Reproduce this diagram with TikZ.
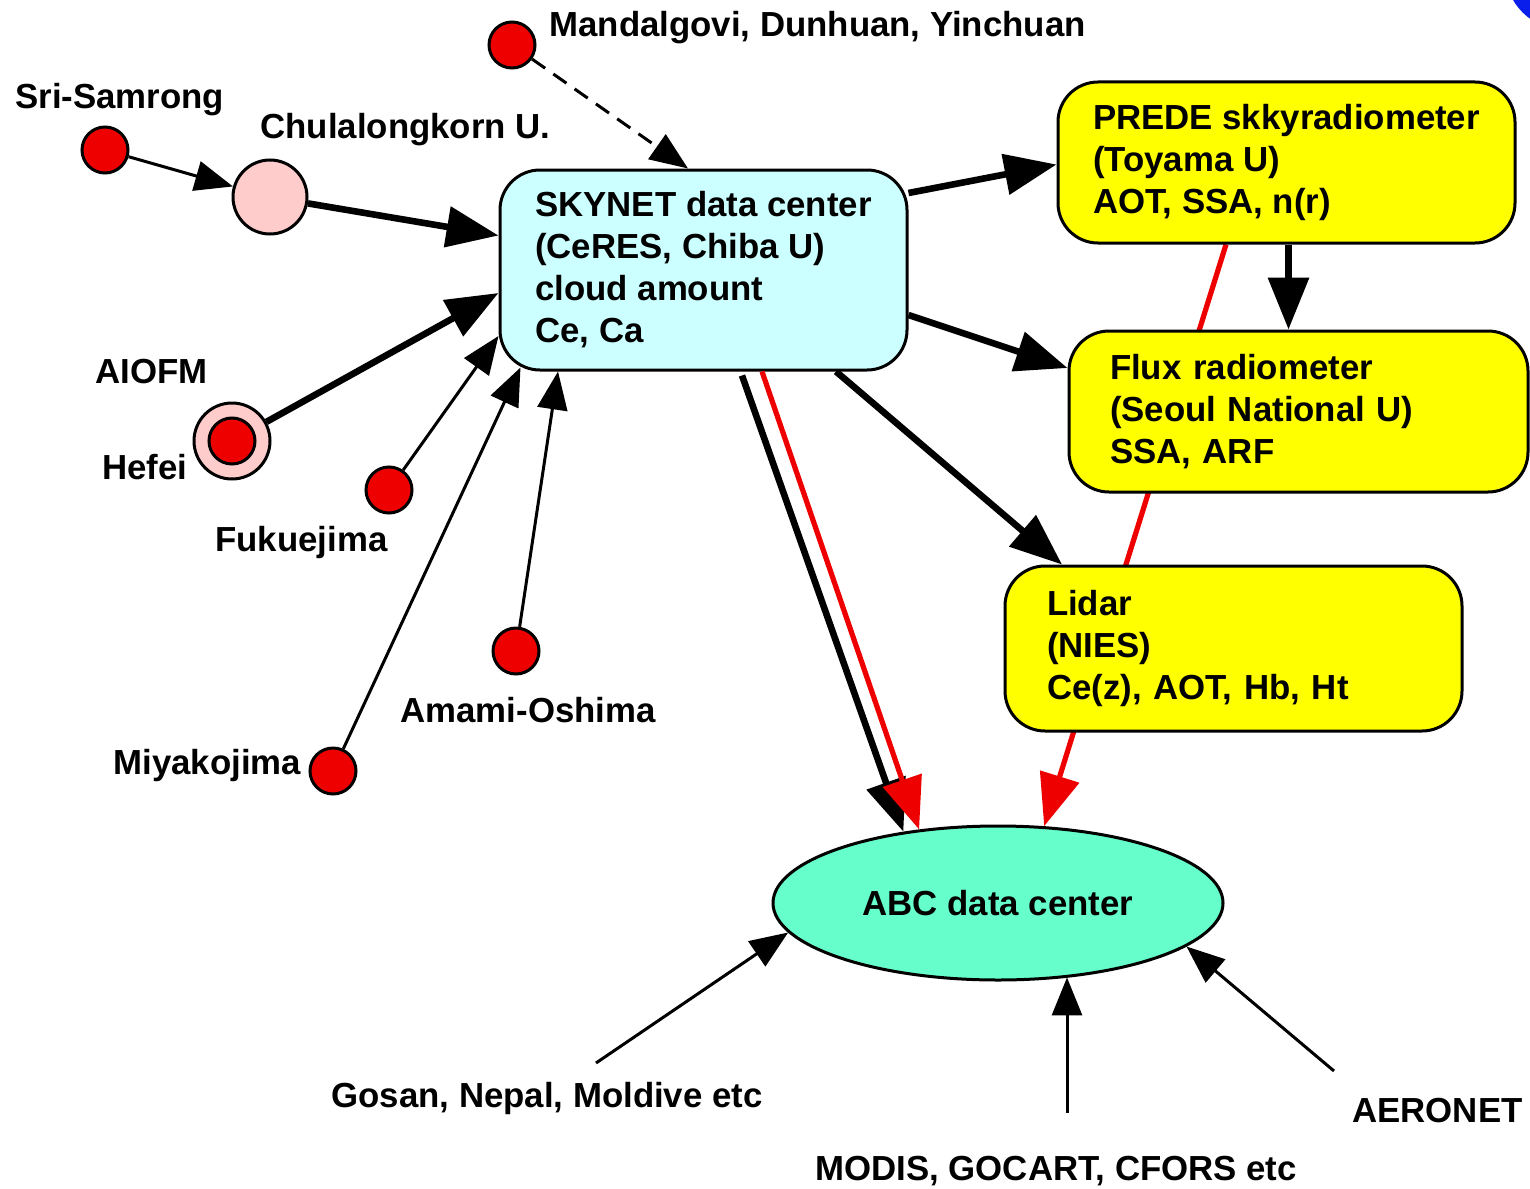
\documentclass[tikz,border=0pt]{standalone}
\usepackage{fontspec}
\setmainfont{Liberation Sans}
\usetikzlibrary{arrows.meta,shapes.geometric,backgrounds}
\definecolor{skycyan}{RGB}{204,255,255}
\definecolor{boxyellow}{RGB}{255,255,0}
\definecolor{abcgreen}{RGB}{102,255,204}
\definecolor{sitered}{RGB}{238,0,0}
\definecolor{sitepink}{RGB}{255,204,204}
\definecolor{cornerblue}{RGB}{10,30,235}
\tikzset{
  every node/.style={font=\bfseries\fontsize{17.4}{21}\selectfont},
  site/.style={circle,draw,line width=1.5pt,fill=sitered,minimum size=23pt,inner sep=0pt},
  hub/.style={circle,draw,line width=1.5pt,fill=sitepink,inner sep=0pt},
  lbl/.style={anchor=base west,inner sep=0pt},
  databox/.style={draw,line width=1.5pt,rounded corners=20pt,align=left},
  thinarr/.style={line width=1.5pt,-{Triangle[length=19pt,width=15pt]}},
  thickarr/.style={line width=3.3pt,-{Triangle[length=26pt,width=20pt]}},
  redarr/.style={draw=sitered,line width=2.6pt,-{Triangle[length=26pt,width=20pt]}}
}
\begin{document}
\begin{tikzpicture}[x=0.5pt,y=-0.5pt]
\useasboundingbox (0,0) rectangle (1530,1188);
\begin{scope}\clip (0,0) rectangle (1530,1188);
\fill[cornerblue] (1565,-30) circle[radius=60];
\end{scope}
% boxes
\node[databox,fill=skycyan,minimum width=203.5pt,minimum height=100pt] (skynet) at (703.5,270) {SKYNET data center\\(CeRES, Chiba U)\\cloud amount\\Ce, Ca};
\node[databox,fill=boxyellow,minimum width=228.5pt,minimum height=80.5pt] (prede) at (1286.5,162.5) {PREDE skkyradiometer\\(Toyama U)\\AOT, SSA, n(r)};
\node[databox,fill=boxyellow,minimum width=229.5pt,minimum height=80.5pt,text width=188.5pt,inner xsep=20.5pt] (flux) at (1298.5,411.5) {Flux radiometer\\(Seoul National U)\\SSA, ARF};
\node[databox,fill=boxyellow,minimum width=228.5pt,minimum height=82.5pt,text width=186.5pt,inner xsep=21pt] (lidar) at (1233.5,648.5) {Lidar\\(NIES)\\Ce(z), AOT, Hb, Ht};
\node[ellipse,draw,line width=1.5pt,fill=abcgreen,minimum width=225pt,minimum height=77pt] (abc) at (998,903) {ABC data center};
% sites
\node[site] (mand) at (512,45) {};
\node[site] (sri) at (105,150) {};
\node[hub,minimum size=37pt] (chula) at (270,197) {};
\node[hub,minimum size=38pt] (hefei) at (232,441) {};
\node[site] (hefeidot) at (hefei) {};
\node[site] (fukue) at (389,490) {};
\node[site] (amami) at (516,651) {};
\node[site] (miyako) at (333,771) {};
% labels
\node[lbl] (mandlbl) at (549,37) {Mandalgovi, Dunhuan, Yinchuan};
\node[lbl] (srilbl) at (15,109) {Sri-Samrong};
\node[lbl] (chulalbl) at (260,139) {Chulalongkorn U.};
\node[lbl] (aiofmlbl) at (95,383) {AIOFM};
\node[lbl] (hefeilbl) at (102,479) {Hefei};
\node[lbl] (fukuelbl) at (215,551) {Fukuejima};
\node[lbl] (amamilbl) at (400,722) {Amami-Oshima};
\node[lbl] (miyakolbl) at (113,774) {Miyakojima};
\node[lbl] (gosanlbl) at (331,1107) {Gosan, Nepal, Moldive etc};
\node[lbl] (modislbl) at (815,1180) {MODIS, GOCART, CFORS etc};
\node[lbl] (aeronetlbl) at (1352,1122) {AERONET};
% into SKYNET
\draw[thinarr] (sri) -- (chula);
\draw[thickarr] (chula) -- (skynet);
\draw[thinarr,dash pattern=on 8pt off 5pt] (mand) -- ([xshift=-7.75pt]skynet.north);
\draw[thickarr] (hefei) -- ([yshift=-11.5pt]skynet.west);
\draw[thinarr] (fukue) -- ([yshift=-33pt]skynet.west);
\draw[thinarr] (miyako) -- ([xshift=11pt,yshift=2pt]skynet.south west);
\draw[thinarr] (amami) -- ([xshift=-72.75pt]skynet.south);
% out of SKYNET
\draw[thickarr] ([yshift=38.5pt]skynet.east) -- ([yshift=-1pt]prede.west);
\draw[thickarr] ([yshift=-22.5pt]skynet.east) -- ([yshift=21.75pt]flux.west);
\draw[thickarr] ([xshift=66.25pt]skynet.south) -- ([xshift=-85.75pt]lidar.north);
\draw[thickarr] ([xshift=1pt]prede.south) -- ([xshift=1pt]prede.south |- flux.north);
\draw[thickarr] ([xshift=19.25pt,yshift=-2pt]skynet.south) -- (abc.143.7);
\draw[redarr] ([xshift=29.25pt]skynet.south) -- (abc.137.2);
\begin{scope}[on background layer]
\draw[redarr] ([xshift=-30.25pt]prede.south) -- (abc.59.2);
\end{scope}
% into ABC
\coordinate (gosanend) at (596,1063);
\coordinate (modisend) at (1067,1113);
\coordinate (aeronetend) at (1334,1071);
\draw[thinarr] (gosanend) -- (abc.188);
\draw[thinarr] (modisend) -- (modisend |- abc.-46.6);
\draw[thinarr] (aeronetend) -- (abc.-13);
\end{tikzpicture}
\end{document}
